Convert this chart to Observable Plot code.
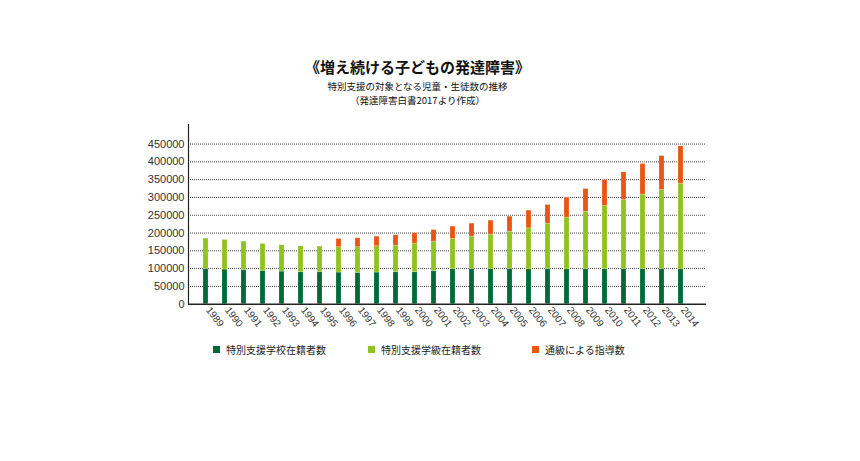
<!DOCTYPE html>
<html>
<head>
<meta charset="utf-8">
<script src="https://cdn.jsdelivr.net/npm/d3@7"></script>
<script src="https://cdn.jsdelivr.net/npm/@observablehq/plot@0.6"></script>
<style>
  html, body { margin: 0; padding: 0; background: #fff; }
  #wrap { position: relative; width: 860px; height: 461px; font-family: "Liberation Sans", "Noto Sans CJK JP", sans-serif; }
  .t { position: absolute; left: 0; width: 835px; text-align: center; color: #111; font-family: "Noto Sans CJK JP", sans-serif; white-space: nowrap; }
  #title { top: 59px; font-size: 15px; line-height: 16px; font-weight: bold; }
  #sub1 { top: 80px; font-size: 9.5px; line-height: 13px; }
  #sub2 { top: 94px; font-size: 9.5px; line-height: 13px; }
  #chart { position: absolute; left: 0; top: 115px; }
  .lg { position: absolute; top: 344px; font-size: 10px; line-height: 11px; font-family: "Noto Sans CJK JP", sans-serif; color: #222; display: flex; align-items: center; white-space: nowrap; }
  .sw { width: 7px; height: 7px; display: inline-block; margin-right: 6px; }
</style>
</head>
<body>
<div id="wrap">
  <div class="t" id="title">《増え続ける子どもの発達障害》</div>
  <div class="t" id="sub1">特別支援の対象となる児童・生徒数の推移</div>
  <div class="t" id="sub2">（発達障害白書2017より作成）</div>
  <div id="chart"></div>
  <div id="legend"></div>
</div>
<script>
const years = ["1989","1990","1991","1992","1993","1994","1995","1996","1997","1998","1999","2000","2001","2002","2003","2004","2005","2006","2007","2008","2009","2010","2011","2012","2013","2014"];
const seriesNames = ["特別支援学校在籍者数", "特別支援学級在籍者数", "通級による指導数"];
const seriesColors = ["#00693a", "#8fc31f", "#ea5514"];
const schoolVals = [98200, 97300, 95400, 93500, 91700, 89800, 89800, 88900, 87900, 88900, 89800, 89800, 92600, 98200, 98200, 98200, 98200, 98200, 98200, 98200, 98200, 98200, 98200, 98200, 98200, 98200];
const classVals = [86100, 83200, 80500, 75800, 73900, 73000, 72000, 71100, 72100, 73900, 74800, 80500, 83300, 85200, 91700, 97300, 105700, 115100, 128200, 145000, 161900, 177800, 194600, 209600, 222700, 240400];
const tsukyuVals = [0, 0, 0, 0, 0, 0, 0, 23400, 25200, 27100, 29000, 29000, 32700, 34600, 36500, 39300, 42100, 49600, 52400, 56200, 63600, 72900, 77700, 86000, 95400, 104800];
const yTicks = [0, 50000, 100000, 150000, 200000, 250000, 300000, 350000, 400000, 450000];
const gridTicks = yTicks.slice(1);

const rows = [];
const allVals = [schoolVals, classVals, tsukyuVals];
years.forEach((y, i) => {
  seriesNames.forEach((s, k) => {
    rows.push({year: y, series: s, value: allVals[k][i]});
  });
});

const chart = Plot.plot({
  width: 860,
  height: 260,
  marginLeft: 188,
  marginRight: 154,
  marginTop: 9,
  marginBottom: 71.3,
  style: {fontFamily: "'Liberation Sans', Arial, sans-serif", fontSize: "11px", color: "#333", background: "transparent"},
  x: {domain: years, paddingInner: 0.74, paddingOuter: 0.595, align: 0.39, label: null},
  y: {domain: [0, 505000], label: null},
  color: {domain: seriesNames, range: seriesColors},
  marks: [
    Plot.ruleY(gridTicks, {stroke: "#444", strokeWidth: 1, strokeDasharray: "1,1"}),
    Plot.barY(rows, Plot.stackY({order: seriesNames, x: "year", y: "value", fill: "series", stroke: "#fff", strokeOpacity: 0.35, strokeWidth: 0.6})),
    Plot.axisY({ticks: yTicks, tickSize: 0, tickPadding: 4, tickFormat: d => String(d), fontSize: 11, fill: "#333"}),
    Plot.axisX({tickSize: 0, tickRotate: 52, tickPadding: 4, fontSize: 10, fill: "#333", dx: 2}),
    Plot.frame({anchor: "left", stroke: "#222", strokeWidth: 1.2}),
    Plot.ruleY([0], {stroke: "#222", strokeWidth: 1.5})
  ]
});
document.getElementById("chart").appendChild(chart);

const legendPos = [213, 368, 532];
const lg = document.getElementById("legend");
seriesNames.forEach((s, k) => {
  const d = document.createElement("div");
  d.className = "lg";
  d.style.left = legendPos[k] + "px";
  const sw = document.createElement("span");
  sw.className = "sw";
  sw.style.background = seriesColors[k];
  d.appendChild(sw);
  d.appendChild(document.createTextNode(s));
  lg.appendChild(d);
});
</script>
</body>
</html>
